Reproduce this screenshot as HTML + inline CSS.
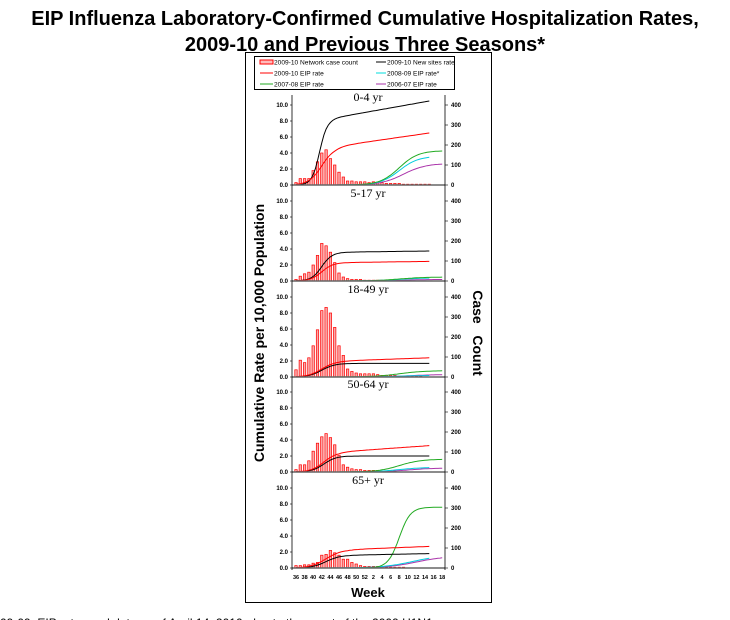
<!DOCTYPE html>
<html><head><meta charset="utf-8"><style>
body{margin:0;background:#fff;width:730px;height:620px;overflow:hidden}
svg{display:block}
</style></head><body>
<svg id="s" width="730" height="620" xmlns="http://www.w3.org/2000/svg" font-family="Liberation Sans, sans-serif">
<text x="365" y="25" text-anchor="middle" font-size="20" font-weight="bold">EIP Influenza Laboratory-Confirmed Cumulative Hospitalization Rates,</text>
<text x="365" y="51" text-anchor="middle" font-size="20" font-weight="bold">2009-10 and Previous Three Seasons*</text>
<rect x="245.5" y="52.5" width="246" height="550" fill="none" stroke="#000" stroke-width="1"/>
<rect x="254.5" y="56.5" width="200" height="33" fill="#fff" stroke="#000" stroke-width="1"/>
<g font-size="6.6">
<rect x="260" y="60" width="13" height="4" fill="#fbb" stroke="red" stroke-width="1"/><text x="274" y="64.5">2009-10 Network case count</text>
<line x1="376" y1="62" x2="386" y2="62" stroke="#000"/><text x="387" y="64.5">2009-10 New sites rate</text>
<line x1="260" y1="73" x2="273" y2="73" stroke="red"/><text x="274" y="75.5">2009-10 EIP rate</text>
<line x1="376" y1="73" x2="386" y2="73" stroke="#0dd"/><text x="387" y="75.5">2008-09 EIP rate*</text>
<line x1="260" y1="84" x2="273" y2="84" stroke="#2a2"/><text x="274" y="86.5">2007-08 EIP rate</text>
<line x1="376" y1="84" x2="386" y2="84" stroke="#a3a"/><text x="387" y="86.5">2006-07 EIP rate</text>
</g>
<text transform="translate(264,333) rotate(-90)" text-anchor="middle" font-size="14" font-weight="bold">Cumulative Rate per 10,000 Population</text>
<text transform="translate(473,333) rotate(90)" text-anchor="middle" font-size="14" font-weight="bold" xml:space="preserve">Case   Count</text>
<text x="368" y="597" text-anchor="middle" font-size="13" font-weight="bold">Week</text>
<text x="0" y="627" font-size="12">09-09. EIP rates and data as of April 14, 2010, due to the onset of the 2009 H1N1</text>
<g id="g"></g>
</svg>
<script>
var g=document.getElementById('g'),NS='http://www.w3.org/2000/svg';
function el(t,a,txt){var e=document.createElementNS(NS,t);for(var k in a)e.setAttribute(k,a[k]);if(txt!=null)e.textContent=txt;g.appendChild(e);return e;}
var L=292,R=445;
function X(i){return 296+i*4.3;}
function lg(i,c,w){return 1/(1+Math.exp(-(i-c)/w));}
var P=[
{b:185,lab:'0-4 yr',bars:[0.3,0.8,0.8,0.8,1.8,2.9,4.0,4.4,3.3,2.5,1.6,1.0,0.5,0.5,0.4,0.4,0.4,0.3,0.4,0.3,0.3,0.2,0.2,0.2,0.2,0.1,0.1,0.1,0.1,0.1,0.1,0.1],
 k:function(i){return 8.3*lg(i,5.5,0.9)+2.2*Math.max(0,(i-8)/23);},r:function(i){return 4.8*lg(i,6,1.5)+1.7*Math.max(0,(i-9)/22);},
 gr:[4.3,24,2.2],cy:[3.6,24,2.2,31],pu:[2.7,25,2.6]},
{b:281,lab:'5-17 yr',bars:[0.2,0.6,0.9,1.1,2.0,3.2,4.7,4.4,3.6,2.3,1.0,0.5,0.3,0.2,0.2,0.2,0.1,0.1,0.1,0.1,0.1,0.1],
 k:function(i){return 3.6*lg(i,6,1.2)+0.15*Math.max(0,(i-10)/21);},r:function(i){return 2.3*lg(i,6,1.3)+0.15*Math.max(0,(i-10)/21);},
 gr:[0.5,24,3],cy:[0.4,24,3,31],pu:[0.2,25,3]},
{b:377,lab:'18-49 yr',bars:[0.9,2.1,1.8,2.4,3.9,5.9,8.3,8.7,8.0,6.2,3.9,2.7,1.0,0.7,0.5,0.4,0.4,0.4,0.4,0.3,0.2,0.2,0.2,0.2,0.1,0.1,0.1,0.1,0.1,0.1],
 k:function(i){return 1.7*lg(i,6,1.5);},r:function(i){return 2.0*lg(i,6,1.6)+0.4*Math.max(0,(i-10)/21);},
 gr:[0.8,24,3],cy:[0.2,24,3,31],pu:[0.3,26,3]},
{b:472,lab:'50-64 yr',bars:[0.3,0.9,0.9,1.4,2.6,3.6,4.4,4.8,4.3,3.4,2.1,0.9,0.6,0.4,0.3,0.3,0.2,0.2,0.2,0.2,0.1,0.1,0.1,0.1],
 k:function(i){return 2.0*lg(i,6.5,1.4);},r:function(i){return 2.5*lg(i,6.5,1.5)+0.8*Math.max(0,(i-10)/21);},
 gr:[1.6,24,2.5],cy:[0.6,24,3,31],pu:[0.5,26,3]},
{b:568,lab:'65+ yr',bars:[0.3,0.3,0.4,0.4,0.6,0.7,1.6,1.7,2.2,1.9,1.6,1.1,1.1,0.7,0.5,0.3,0.2,0.2,0.2,0.2,0.2,0.1,0.1,0.1,0.1,0.1],
 k:function(i){return 1.6*lg(i,7,1.6)+0.2*Math.max(0,(i-12)/19);},r:function(i){return 2.3*lg(i,7,1.8)+0.4*Math.max(0,(i-12)/19);},
 gr:[7.6,24,1.3],cy:[1.6,27,3.5,31],pu:[1.5,28,3.5]}
];
P.forEach(function(p){
 var b=p.b;
 el('text',{x:368,y:b-84,'text-anchor':'middle','font-size':12,'font-family':'Liberation Serif, serif'},p.lab);
 for(var v=0;v<=10;v+=2){var y=b-v*8;el('text',{x:288,y:y+2,'text-anchor':'end','font-size':6,'font-weight':'bold'},v.toFixed(1));el('line',{x1:L-2,y1:y,x2:L,y2:y,stroke:'#000','stroke-width':0.6});}
 for(var c=0;c<=400;c+=100){var y=b-c*0.2;el('text',{x:451,y:y+2,'font-size':6,'font-weight':'bold'},c);el('line',{x1:R,y1:y,x2:R+3,y2:y,stroke:'#000','stroke-width':0.6});}
 p.bars.forEach(function(v,i){el('rect',{x:X(i)-1.2,y:b-v*8,width:2.4,height:v*8,fill:'#f9a9a9',stroke:'red','stroke-width':0.7});});
 function path(f,a,z,col,w){var d='';for(var i=a;i<=z;i+=0.5){d+=(i==a?'M':'L')+X(i).toFixed(1)+' '+(b-f(i)*8).toFixed(1);}el('path',{d:d,fill:'none',stroke:col,'stroke-width':w||1});}
 path(function(i){return p.pu[0]*lg(i,p.pu[1],p.pu[2]);},8,34,'#a3a');
 path(function(i){return p.cy[0]*lg(i,p.cy[1],p.cy[2]);},8,p.cy[3],'#0cd');
 path(function(i){return p.gr[0]*lg(i,p.gr[1],p.gr[2]);},8,34,'#2a2');
 path(p.k,0,31,'#000');
 path(p.r,0,31,'red');
 el('line',{x1:L,y1:b,x2:R,y2:b,stroke:'#666','stroke-width':1.5});
});
el('line',{x1:L,y1:95,x2:L,y2:570,stroke:'#000','stroke-width':0.8});
el('line',{x1:R,y1:95,x2:R,y2:570,stroke:'#000','stroke-width':0.8});
var wk=[36,38,40,42,44,46,48,50,52,2,4,6,8,10,12,14,16,18];
wk.forEach(function(w,j){var i=j<9?j*2:18+(j-9)*2;el('text',{x:X(i),y:579,'text-anchor':'middle','font-size':5.5,'font-weight':'bold'},w);});
</script>
</body></html>
